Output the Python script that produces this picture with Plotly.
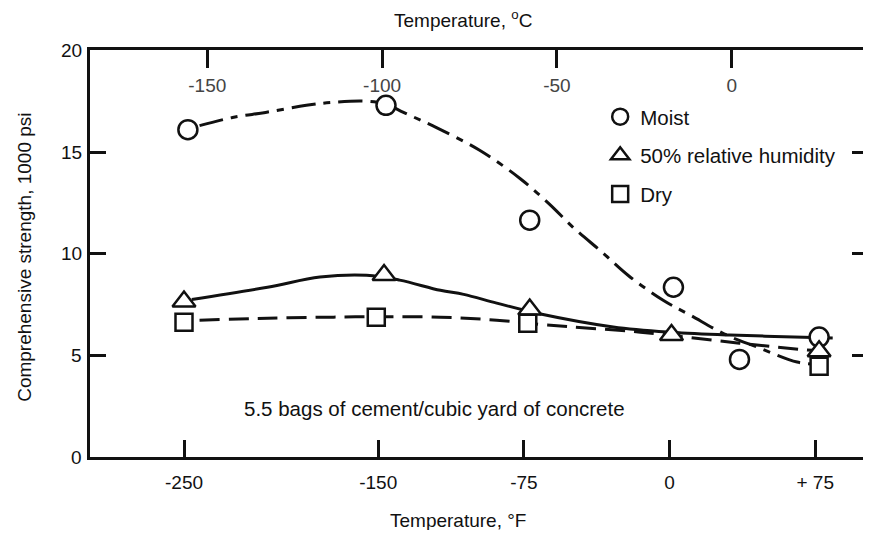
import plotly.graph_objects as go

# ---- data ----
moist_x = [-248, -146, -72, 2, 36, 77]
moist_y = [16.1, 17.3, 11.65, 8.35, 4.8, 5.9]

rh50_x = [-250, -147, -72, 1, 77]
rh50_y = [7.65, 8.95, 7.25, 6.0, 5.2]

dry_x = [-250, -151, -73, 77]
dry_y = [6.63, 6.88, 6.58, 4.47]

# fitted curves as drawn on the figure
moist_curve_x = [-242, -225, -208, -187, -173, -156, -146, -137, -120, -98, -77, -62, -49.7, -34.2,
                 -21.4, -3.3, 10.6, 29.6, 45, 65.7, 76]
moist_curve_y = [16.3, 16.7, 16.95, 17.3, 17.45, 17.5, 17.35, 16.95, 16.2, 15.1, 13.7, 12.45, 11.3, 10.03,
                 8.94, 7.71, 6.98, 5.99, 5.41, 4.67, 4.55]

rh50_curve_x = [-246, -207, -180, -156, -139, -118, -106, -89, -67, -29, 1, 31, 74, 84]
rh50_curve_y = [7.75, 8.35, 8.85, 8.94, 8.7, 8.2, 8.0, 7.57, 7.05, 6.4, 6.14, 6.0, 5.88, 5.85]

dry_curve_x = [-242, -207, -173, -151, -118, -89, -63, -15, 36, 71, 82]
dry_curve_y = [6.73, 6.83, 6.88, 6.9, 6.88, 6.73, 6.49, 6.14, 5.6, 5.26, 5.2]

f_ticks = [-250, -150, -75, 0, 75]
f_tick_labels = ["-250", "-150", "-75", "0", "+ 75"]
c_ticks = [-150, -100, -50, 0]
c_tick_labels = ["-150", "-100", "-50", "0"]
y_ticks = [0, 5, 10, 15, 20]
y_tick_labels = ["0", "5", "10", "15", "20"]

x_range = [-298.4, 99.6]
c_range = [(v - 32) * 5 / 9 for v in x_range]

FONT = "Liberation Sans, Arial, sans-serif"
INK = "#111111"

fig = go.Figure()

fig.add_trace(go.Scatter(x=moist_curve_x, y=moist_curve_y, mode="lines",
                         line=dict(color=INK, width=3, dash="24px,8px,7px,8px", shape="spline"),
                         showlegend=False, hoverinfo="skip"))
fig.add_trace(go.Scatter(x=rh50_curve_x, y=rh50_curve_y, mode="lines",
                         line=dict(color=INK, width=3, shape="spline"),
                         showlegend=False, hoverinfo="skip"))
fig.add_trace(go.Scatter(x=dry_curve_x, y=dry_curve_y, mode="lines",
                         line=dict(color=INK, width=3, dash="20px,9px", shape="spline"),
                         showlegend=False, hoverinfo="skip"))

mk = dict(color="white", line=dict(color=INK, width=2.5))
fig.add_trace(go.Scatter(x=moist_x, y=moist_y, mode="markers", name="Moist", legendgroup="a",
                         marker=dict(symbol="circle", size=19, **mk)))
fig.add_trace(go.Scatter(x=rh50_x, y=rh50_y, mode="markers", name="50% relative humidity", legendgroup="b",
                         marker=dict(symbol="triangle-up", size=20, **mk)))
fig.add_trace(go.Scatter(x=dry_x, y=dry_y, mode="markers", name="Dry", legendgroup="c",
                         marker=dict(symbol="square", size=17, **mk)))

# invisible trace to activate the top °C axis
fig.add_trace(go.Scatter(x=c_range, y=[None, None], xaxis="x2", mode="lines",
                         showlegend=False, hoverinfo="skip"))
# invisible trace for right-side tick marks
fig.add_trace(go.Scatter(x=[None], y=[None], yaxis="y2", mode="lines",
                         showlegend=False, hoverinfo="skip"))

fig.update_layout(
    width=855, height=522,
    margin=dict(l=82, r=0, t=42, b=73, autoexpand=False),
    paper_bgcolor="white", plot_bgcolor="white",
    font=dict(family=FONT, size=19, color=INK),
    xaxis=dict(range=x_range, tickvals=f_ticks, ticktext=f_tick_labels,
               ticks="inside", ticklen=17, tickwidth=2.5, tickcolor=INK,
               ticklabelstandoff=6,
               showline=True, linewidth=2.5, linecolor=INK, showgrid=False, zeroline=False,
               tickfont=dict(size=19)),
    xaxis2=dict(range=c_range, overlaying="x", side="top", tickvals=c_ticks, ticktext=c_tick_labels,
                ticks="inside", ticklen=18, tickwidth=2.5, tickcolor=INK,
                ticklabelposition="inside", ticklabelstandoff=12,
                showline=True, linewidth=3, linecolor=INK, showgrid=False, zeroline=False,
                tickfont=dict(size=19)),
    yaxis=dict(range=[0, 20.02], tickvals=y_ticks, showticklabels=False,
               ticks="inside", ticklen=16, tickwidth=2.5,
               tickcolor=INK, showline=True, linewidth=3, linecolor=INK, showgrid=False,
               zeroline=False),
    yaxis2=dict(range=[0, 20.02], overlaying="y", side="right", tickvals=[5, 10, 15],
                ticks="inside", ticklen=11, tickwidth=2.5, tickcolor=INK,
                showticklabels=False, showline=False, showgrid=False, zeroline=False),
    legend=dict(x=0.66, y=0.885, xanchor="left", yanchor="top", bgcolor="rgba(0,0,0,0)",
                font=dict(size=20.5), tracegroupgap=9, itemwidth=30),
    showlegend=True,
)

# y tick labels
for v, lab in zip(y_ticks, y_tick_labels):
    fig.add_annotation(text=lab, xref="paper", yref="y", x=0, y=v, xanchor="right",
                       yanchor="middle", xshift=-6, showarrow=False, font=dict(size=19))

fig.add_annotation(text="Temperature, <sup>o</sup>C", xref="paper", yref="paper",
                   x=0.483, y=1.076, xanchor="center", yanchor="middle",
                   showarrow=False, font=dict(size=19))
fig.add_annotation(text="Temperature, °F", xref="paper", yref="paper",
                   x=0.476, y=-0.157, xanchor="center", yanchor="middle",
                   showarrow=False, font=dict(size=19))
fig.add_annotation(text="Comprehensive strength, 1000 psi", xref="paper", yref="paper",
                   x=-0.0858, y=0.491, xanchor="center", yanchor="middle", textangle=-90,
                   showarrow=False, font=dict(size=19))
fig.add_annotation(text="5.5 bags of cement/cubic yard of concrete", xref="x", yref="y",
                   x=-121, y=2.4, xanchor="center", yanchor="middle",
                   showarrow=False, font=dict(size=20.5))

fig.write_html("out.html")
